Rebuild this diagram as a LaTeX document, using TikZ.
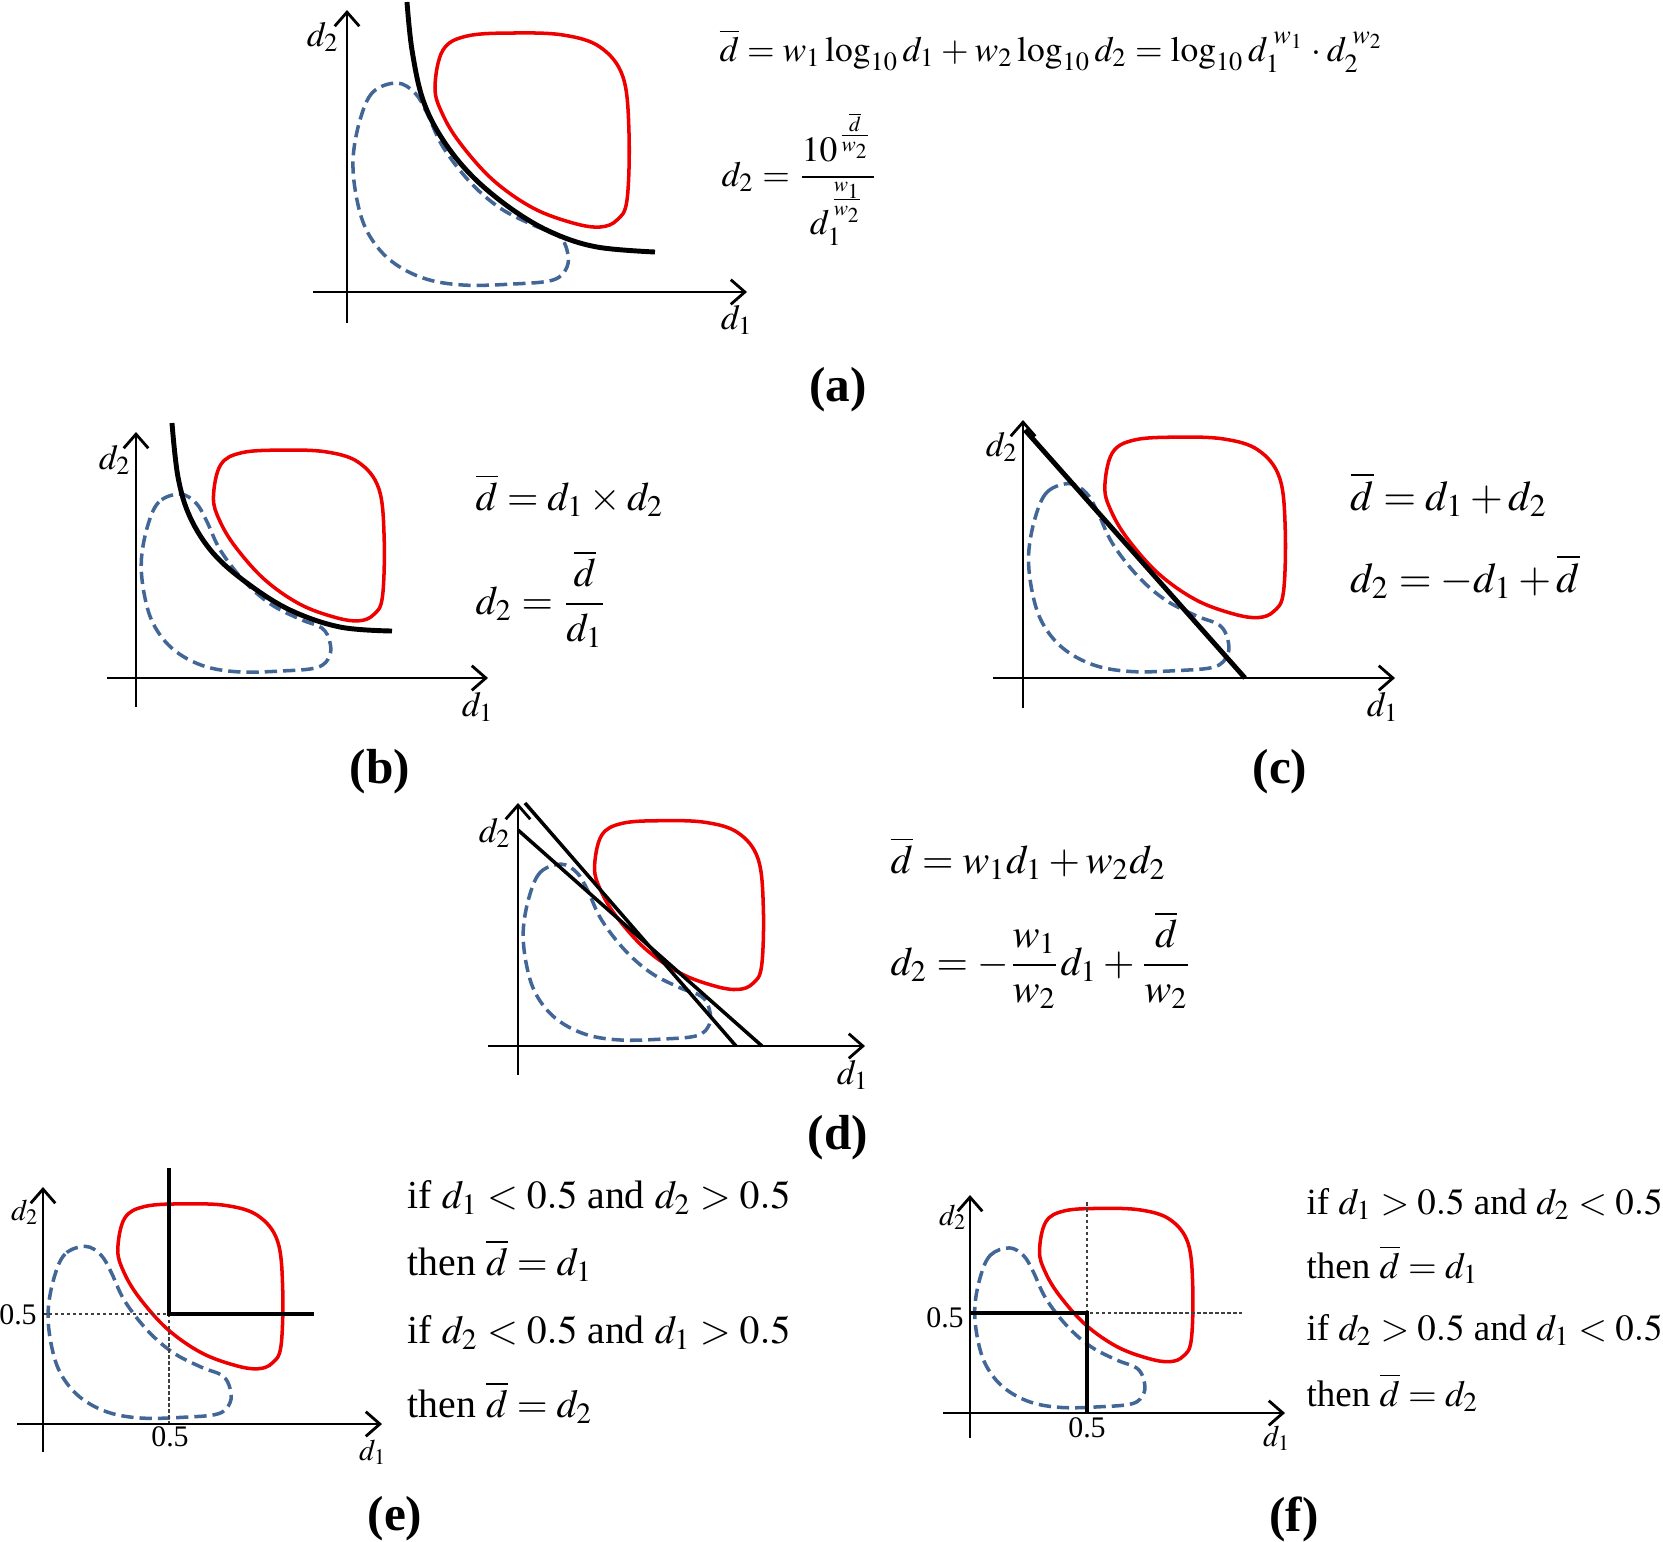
\documentclass[tikz,border=0pt]{standalone}
\usepackage{amsmath}
\usepackage{mathptmx}
\usepackage[no-math]{fontspec}
\setmainfont{Liberation Serif}
\usetikzlibrary{arrows.meta}
\definecolor{redc}{RGB}{238,0,0}
\definecolor{bluec}{RGB}{66,103,150}
\newcommand{\tightmath}{\thickmuskip=4mu\relax\medmuskip=3mu\relax}
\tikzset{
  axis/.style={line width=0.8pt,-{Straight Barb[length=4pt,width=7pt]}},
  redline/.style={draw=redc,line width=1pt},
  bluedash/.style={draw=bluec,line width=1pt,dash pattern=on 3.5pt off 1.7pt},
  boundary/.style={line width=1.4pt},
  bline/.style={line width=1pt},
  dotline/.style={line width=0.35pt,dash pattern=on 1pt off 0.7pt,black!75},
  axlab/.style={font=\fontsize{10}{12}\selectfont,inner sep=0pt},
  smlab/.style={font=\fontsize{8.5}{10}\selectfont,inner sep=0pt},
  panlab/.style={font=\fontsize{14}{16}\selectfont\bfseries,inner sep=0pt},
  eqa/.style={font=\fontsize{10.1}{13}\selectfont,inner sep=0pt,anchor=base west},
  eqb/.style={font=\fontsize{11.5}{14}\selectfont,inner sep=0pt,anchor=base west},
  eqc/.style={font=\fontsize{12}{14}\selectfont,inner sep=0pt,anchor=base west},
  rule/.style={font=\fontsize{11.3}{14}\selectfont,inner sep=0pt,anchor=base west},
  rulef/.style={font=\fontsize{10.5}{13}\selectfont,inner sep=0pt,anchor=base west}
}
\newcommand{\blobs}[3]{%
  \begin{scope}[shift={(#1,#2)},scale=#3,yscale=-1]
    \draw[redline] plot[smooth cycle,tension=0.6] coordinates {
      (88,205) (96,242) (120,256) (166,259) (216,257) (253,245) (276,215)
      (282,159) (280,92) (270,72) (253,65) (226,69) (186,84) (146,112)
      (113,149) (95,179)};
    \draw[bluedash] plot[smooth cycle,tension=0.6] coordinates {
      (50,209) (26,200) (13,172) (6,132) (10,92) (21,59) (43,32) (76,14)
      (116,7) (166,8) (206,12) (220,25) (220,42) (211,57) (186,67) (153,84)
      (123,110) (96,145) (80,179) (68,199)};
  \end{scope}}
\begin{document}
\begin{tikzpicture}[x=0.01cm,y=-0.01cm]
\useasboundingbox (0,0) rectangle (1663,1541);

% ---------- (a)
\blobs{347}{292}{1}
\draw[boundary] plot[smooth,tension=0.6] coordinates {(407,2) (412,50) (423,100) (443,140) (473,177) (513,210) (553,233) (597,247) (655,252)};
\draw[axis] (347,323) -- (347,10);
\draw[axis] (313,292) -- (747,292);
\node[axlab] (a-d2) at (323,37) {$d_2$};
\node[axlab] (a-d1) at (737,320) {$d_1$};
\node[eqa] (a-eq1) at (719,61) {\tightmath$\overline{d}=w_1\log_{10}d_1+w_2\log_{10}d_2=\log_{10}d_1^{\;w_1}\cdot d_2^{\;w_2}$};
\node[eqa] (a-eq2) at (721,186) {\tightmath$d_2=\dfrac{10^{\frac{\overline{d}}{w_2}}}{d_1^{\frac{w_1}{w_2}}}$};
\node[panlab] (a-lab) at (838,390) {(a)};

% ---------- (b)
\blobs{136}{678}{0.88}
\draw[boundary] plot[smooth,tension=0.6] coordinates {(172,423) (178,477) (190,517) (213,553) (247,583) (290,610) (340,627) (392,631)};
\draw[axis] (136,707) -- (136,432);
\draw[axis] (107,678) -- (488,678);
\node[axlab] (b-d2) at (115,460) {$d_2$};
\node[axlab] (b-d1) at (478,707) {$d_1$};
\node[eqb] (b-eq1) at (475,510) {$\overline{d}=d_1\times d_2$};
\node[eqb] (b-eq2) at (475,614) {$d_2=\dfrac{\overline{d}}{d_1}$};
\node[panlab] (b-lab) at (380,772) {(b)};

% ---------- (c)
\blobs{1023}{678}{0.93}
\draw[boundary] (1025,430) -- (1245,678);
\draw[axis] (1023,708) -- (1023,420);
\draw[axis] (993,678) -- (1395,678);
\node[axlab] (c-d2) at (1002,447) {$d_2$};
\node[axlab] (c-d1) at (1383,707) {$d_1$};
\node[eqc] (c-eq1) at (1350,510) {$\overline{d}=d_1+d_2$};
\node[eqc] (c-eq2) at (1350,592) {$d_2=-d_1+\overline{d}$};
\node[panlab] (c-lab) at (1280,772) {(c)};

% ---------- (d)
\blobs{518}{1046}{0.87}
\draw[bline] (525,803) -- (736,1046);
\draw[bline] (518,830) -- (762,1046);
\draw[axis] (518,1075) -- (518,803);
\draw[axis] (488,1046) -- (865,1046);
\node[axlab] (d-d2) at (495,833) {$d_2$};
\node[axlab] (d-d1) at (853,1075) {$d_1$};
\node[eqb] (d-eq1) at (890,873) {$\overline{d}=w_1d_1+w_2d_2$};
\node[eqb] (d-eq2) at (890,975) {$d_2=-\dfrac{w_1}{w_2}d_1+\dfrac{\overline{d}}{w_2}$};
\node[panlab] (d-lab) at (838,1138) {(d)};

% ---------- (e)
\blobs{43}{1424}{0.85}
\draw[dotline] (43,1314) -- (169,1314) -- (169,1424);
\draw[bline] (169,1168) -- (169,1314) -- (314,1314);
\draw[axis] (43,1452) -- (43,1187);
\draw[axis] (17,1424) -- (382,1424);
\node[smlab] (e-d2) at (25,1212) {$d_2$};
\node[smlab] (e-d1) at (373,1452) {$d_1$};
\node[smlab] (e-y5) at (18,1315) {0.5};
\node[smlab] (e-x5) at (170,1437) {0.5};
\node[rule] (e-r1) at (407,1208) {if $d_1<0.5$ and $d_2>0.5$};
\node[rule] (e-r2) at (407,1275) {then $\overline{d}=d_1$};
\node[rule] (e-r3) at (407,1343) {if $d_2<0.5$ and $d_1>0.5$};
\node[rule] (e-r4) at (407,1417) {then $\overline{d}=d_2$};
\node[panlab] (e-lab) at (395,1519) {(e)};

% ---------- (f)
\blobs{970}{1413}{0.79}
\draw[dotline] (1087,1202) -- (1087,1313) -- (1242,1313);
\draw[bline] (970,1313) -- (1087,1313) -- (1087,1413);
\draw[axis] (970,1438) -- (970,1195);
\draw[axis] (943,1413) -- (1285,1413);
\node[smlab] (f-d2) at (953,1217) {$d_2$};
\node[smlab] (f-d1) at (1277,1438) {$d_1$};
\node[smlab] (f-y5) at (945,1318) {0.5};
\node[smlab] (f-x5) at (1087,1428) {0.5};
\node[rulef] (f-r1) at (1306,1214) {if $d_1>0.5$ and $d_2<0.5$};
\node[rulef] (f-r2) at (1306,1278) {then $\overline{d}=d_1$};
\node[rulef] (f-r3) at (1306,1340) {if $d_2>0.5$ and $d_1<0.5$};
\node[rulef] (f-r4) at (1306,1406) {then $\overline{d}=d_2$};
\node[panlab] (f-lab) at (1294,1519) {(f)};
\end{tikzpicture}
\end{document}
